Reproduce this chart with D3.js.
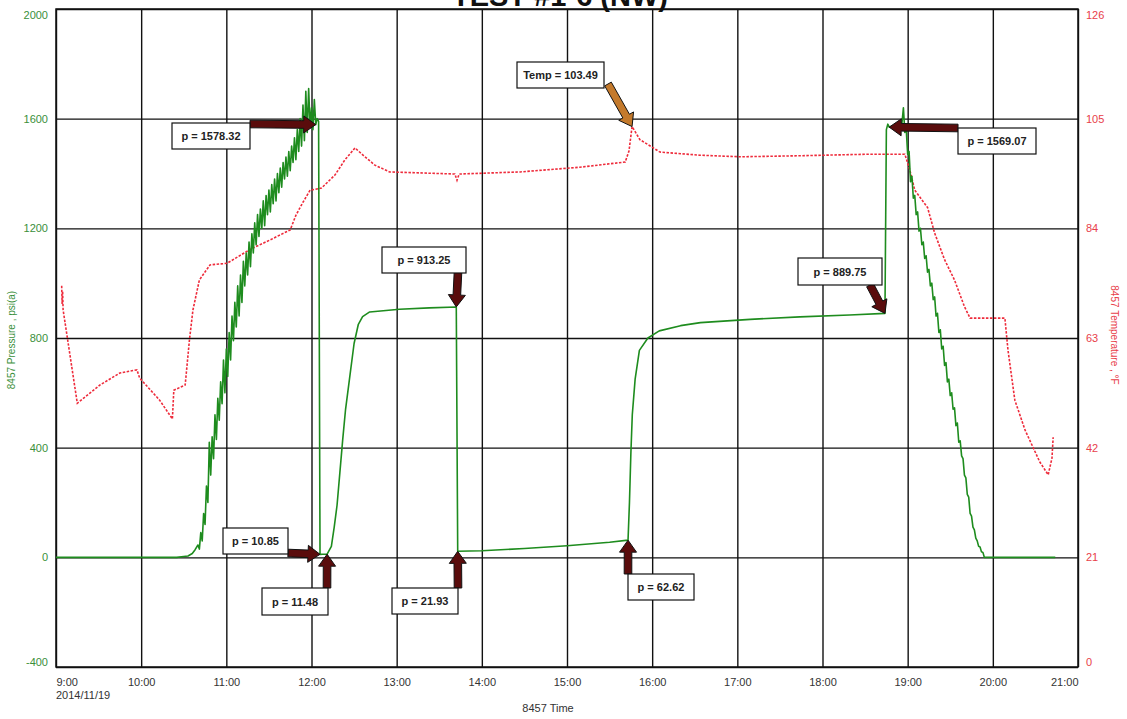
<!DOCTYPE html>
<html><head><meta charset="utf-8">
<script src="https://cdn.jsdelivr.net/npm/d3@7"></script>
<style>body{margin:0;background:#fff;} svg{display:block;font-family:"Liberation Sans",Arial,sans-serif;}</style>
</head><body><svg id="c" width="1127" height="719"></svg>
<script>
// ---------- DATA ----------
const chartTitle = "TEST #1-6 (NW)";
const pressureTicks = [-400, 0, 400, 800, 1200, 1600, 2000];
const temperatureTicks = [0, 21, 42, 63, 84, 105, 126];
const timeDomain = ["09:00", "21:00"];
const dateLabel = "2014/11/19";

// pressure, psi(a): [time, value]
const pressure = [
["09:00",0],["10:25",0],["10:30",3],["10:33",5],["10:36",14],["10:38",28],["10:40",45],["10:41",30],["10:42",90],["10:43",60],
["10:44",160],["10:45",120],["10:46",260],["10:47",200],["10:48",420],["10:49",300],["10:50",440],["10:51",360],["10:52",520],["10:53",430],
["10:54",580],["10:55",500],["10:56",640],["10:57",560],["10:58",720],["10:59",600],["11:00",760],["11:01",660],["11:02",820],["11:03",720],
["11:04",880],["11:05",790],["11:06",930],["11:07",840],["11:08",990],["11:09",880],["11:10",1030],["11:11",930],["11:12",1080],["11:13",990],
["11:14",1110],["11:15",1030],["11:16",1150],["11:17",1060],["11:18",1180],["11:19",1110],["11:20",1220],["11:21",1140],["11:22",1250],["11:23",1170],
["11:24",1270],["11:25",1200],["11:26",1300],["11:27",1210],["11:28",1320],["11:29",1250],["11:30",1340],["11:31",1260],["11:32",1360],["11:33",1290],
["11:34",1380],["11:35",1300],["11:36",1400],["11:37",1330],["11:38",1420],["11:39",1350],["11:40",1440],["11:41",1380],["11:42",1460],["11:43",1390],
["11:44",1480],["11:45",1410],["11:46",1500],["11:47",1440],["11:48",1530],["11:49",1450],["11:50",1560],["11:51",1480],["11:52",1600],["11:53",1500],
["11:54",1650],["11:55",1520],["11:56",1700],["11:57",1550],["11:58",1710],["11:59",1570],["12:00",1640],["12:01",1560],["12:02",1670],["12:03",1578.32],
["12:04",1600],["12:05",1590],["12:06",10.85],["12:08",11],["12:11",11.48],["12:14",40],["12:16",110],["12:18",190],["12:20",310],["12:22",430],
["12:24",540],["12:27",660],["12:30",780],["12:33",850],["12:36",878],["12:41",895],["13:02",905],["13:23",910],["13:42",913.25],["13:43",21.93],
["14:00",24],["14:30",32],["15:00",42],["15:30",55],["15:43",62.62],["15:44",200],["15:45",380],["15:46",520],["15:48",650],["15:51",755],
["15:57",800],["16:05",826],["16:20",845],["16:34",856],["17:09",868],["17:44",877],["18:19",884],["18:44",889.75],["18:45",1560],["18:46",1580],
["18:47",1569.07],["18:50",1575],["18:54",1580],["18:56",1585],["18:57",1640],["18:58",1550],["18:59",1560],["19:00",1470],["19:01",1480],["19:02",1370],
["19:03",1390],["19:04",1310],["19:05",1320],["19:06",1250],["19:07",1260],["19:08",1190],["19:09",1200],["19:10",1140],["19:11",1150],["19:12",1090],
["19:13",1100],["19:14",1040],["19:15",1050],["19:16",990],["19:17",1000],["19:18",940],["19:19",950],["19:20",880],["19:21",890],["19:22",820],
["19:23",830],["19:24",760],["19:25",770],["19:26",700],["19:27",710],["19:28",640],["19:29",650],["19:30",590],["19:31",600],["19:32",540],
["19:33",545],["19:34",480],["19:35",490],["19:36",420],["19:37",425],["19:38",370],["19:39",360],["19:40",300],["19:41",290],["19:42",230],
["19:43",220],["19:44",160],["19:45",150],["19:46",110],["19:47",100],["19:48",70],["19:49",60],["19:50",40],["19:51",38],["19:52",20],
["19:53",18],["19:54",0],["20:44",0]
];

// temperature, °F: [time, value]
const temperature = [
["09:04",73.0],["09:04:20",69.5],["09:04:40",72.0],["09:05",68.4],["09:15",50.5],["09:31",54.0],["09:45",56.3],["09:57",56.9],["09:59",55.3],
["10:13",51.1],["10:22",47.5],["10:23",53.0],["10:31",54.0],["10:34",62.6],["10:36:30",68.4],["10:41",74.1],["10:48:30",77.0],["11:00:30",77.3],
["11:17",80.0],["11:31",81.8],["11:45",83.7],["11:49",86.5],["11:54",89.0],["11:59",91.3],["12:07",91.7],["12:16:30",94.2],["12:23:30",97.1],
["12:30:40",99.4],["12:35:30",98.2],["12:44:40",96.1],["12:55",94.8],["13:41",94.4],["13:42:30",93.2],["13:44",94.4],["14:27",94.8],
["15:09",95.7],["15:41",96.7],["15:43:40",98.8],["15:45:50",103.49],["15:51:20",101.0],["16:05:30",98.6],["16:33:40",98.0],["17:02",97.7],
["17:44",97.9],["18:33:30",98.2],["18:58",98.2],["19:01:30",95.2],["19:05",91.3],["19:14",88.0],["19:19",83.1],["19:26",78.0],["19:33",74.1],
["19:40",69.0],["19:44",66.8],["20:08:30",66.8],["20:10:40",60.7],["20:15:30",51.1],["20:22:40",45.4],["20:33",39.3],["20:39",36.8],
["20:41:40",40.0],["20:42:30",44.0]
];

// annotations (data)
const annTime  = ["12:03","15:45:50","13:42","18:44","18:47","12:06","12:11","13:43","15:43"];
const annValue = [1578.32, 103.49, 913.25, 889.75, 1569.07, 10.85, 11.48, 21.93, 62.62];
const annAxis  = ["p","t","p","p","p","p","p","p","p"];
const annLabel = ["p = 1578.32","Temp = 103.49","p = 913.25","p = 889.75","p = 1569.07","p = 10.85","p = 11.48","p = 21.93","p = 62.62"];

// ---------- LAYOUT / STYLE ----------
const M = {left:56, right:1078, top:9, bottom:667};
const annBox  = [[172,123,78,26],[517,62,87,26],[382,247,84,26],[798,258,84,27],[958,128,78,26],[223,528,65,26],[262,588,66,27],[392,588,66,26],[628,574,66,26]];
const annTail = [[250,124],[608,84],[458,272],[870,285],[958,128],[288,553],[327,588],[458,588],[628,574]];
const annColor= ["#5a0c0c","#c47a2c","#5a0c0c","#5a0c0c","#5a0c0c","#5a0c0c","#5a0c0c","#5a0c0c","#5a0c0c"];

const green = "#1e8c1e", red = "#ee2b3b", greenText = "#3a8f3a", redText = "#e8404a", tickText = "#333";
const parseT = s => { const p = s.split(":").map(Number); return new Date(2014,10,19,p[0],p[1],p[2]||0); };

const svg = d3.select("#c");
const x = d3.scaleTime().domain(timeDomain.map(parseT)).range([M.left, M.right]);
const yL = d3.scaleLinear().domain([-400,2000]).range([M.bottom, M.top]);
const yR = d3.scaleLinear().domain([0,126]).range([M.bottom, M.top]);
const plain = d => String(d);

// title (cut off at the top as in the source)
svg.append("text").attr("x",560).attr("y",6).attr("text-anchor","middle")
  .attr("font-size",29).attr("font-weight","bold").attr("fill","#111").text(chartTitle);

// grid
const hours = d3.timeHour.range(parseT("09:00"), d3.timeMinute.offset(parseT("21:00"),1));
svg.append("g").attr("transform",`translate(0,${M.bottom})`)
  .call(d3.axisBottom(x).tickValues(hours).tickSize(-(M.bottom-M.top)).tickFormat(""))
  .call(g=>g.select(".domain").remove())
  .call(g=>g.selectAll("line").attr("stroke","#111").attr("stroke-width",1.4));
svg.append("g").attr("transform",`translate(${M.left},0)`)
  .call(d3.axisLeft(yL).tickValues(pressureTicks).tickSize(-(M.right-M.left)).tickFormat(""))
  .call(g=>g.select(".domain").remove())
  .call(g=>g.selectAll("line").attr("stroke","#111").attr("stroke-width",1.4));
svg.append("rect").attr("x",M.left).attr("y",M.top).attr("width",M.right-M.left).attr("height",M.bottom-M.top)
  .attr("fill","none").attr("stroke","#111").attr("stroke-width",1.5);

// axis labels
const ax = svg.append("g").attr("transform",`translate(0,${M.bottom})`)
  .call(d3.axisBottom(x).tickValues(hours).tickSize(0).tickPadding(11).tickFormat(d3.timeFormat("%-H:%M")));
ax.select(".domain").remove();
ax.selectAll("text").attr("font-size",11).attr("fill",tickText).attr("font-family","Liberation Sans, Arial");
ax.selectAll(".tick").filter((d,i)=>i===0).select("text").attr("text-anchor","start");
ax.selectAll(".tick").filter((d,i,n)=>i===n.length-1).select("text").attr("text-anchor","end");
svg.append("text").attr("x",M.left).attr("y",699).attr("font-size",11).attr("fill",tickText).text(dateLabel);

const al = svg.append("g").attr("transform",`translate(${M.left},0)`)
  .call(d3.axisLeft(yL).tickValues(pressureTicks).tickSize(0).tickPadding(8).tickFormat(plain));
al.select(".domain").remove();
al.selectAll("text").attr("font-size",11).attr("fill",greenText).attr("font-family","Liberation Sans, Arial");
al.selectAll(".tick").filter(d=>d===2000).select("text").attr("dy","0.85em");
al.selectAll(".tick").filter(d=>d===-400).select("text").attr("dy","-0.1em");

const ar = svg.append("g").attr("transform",`translate(${M.right},0)`)
  .call(d3.axisRight(yR).tickValues(temperatureTicks).tickSize(0).tickPadding(8).tickFormat(plain));
ar.select(".domain").remove();
ar.selectAll("text").attr("font-size",11).attr("fill",redText).attr("font-family","Liberation Sans, Arial");
ar.selectAll(".tick").filter(d=>d===126).select("text").attr("dy","0.85em");
ar.selectAll(".tick").filter(d=>d===0).select("text").attr("dy","-0.1em");

svg.append("text").attr("transform","translate(15,340) rotate(-90)").attr("text-anchor","middle")
  .attr("font-size",10).attr("fill",greenText).text("8457 Pressure , psi(a)");
svg.append("text").attr("transform","translate(1111,335) rotate(90)").attr("text-anchor","middle")
  .attr("font-size",10).attr("fill",redText).text("8457 Temperature , °F");
svg.append("text").attr("x",548).attr("y",712).attr("text-anchor","middle")
  .attr("font-size",11).attr("fill",tickText).text("8457 Time");

// series
svg.append("clipPath").attr("id","pc").append("rect")
  .attr("x",M.left).attr("y",M.top).attr("width",M.right-M.left).attr("height",M.bottom-M.top);
const plot = svg.append("g").attr("clip-path","url(#pc)");
plot.append("path").datum(temperature)
  .attr("d", d3.line().x(d=>x(parseT(d[0]))).y(d=>yR(d[1])))
  .attr("fill","none").attr("stroke",red).attr("stroke-width",1.6).attr("stroke-dasharray","2.5,1.5");
plot.append("path").datum(pressure)
  .attr("d", d3.line().x(d=>x(parseT(d[0]))).y(d=>yL(d[1])))
  .attr("fill","none").attr("stroke",green).attr("stroke-width",1.6).attr("stroke-linejoin","round");

// annotations
function arrowPts(x0,y0,x1,y1){
  const sw=3.8, hl=12, hw=8.5;
  const dx=x1-x0, dy=y1-y0, L=Math.hypot(dx,dy), ux=dx/L, uy=dy/L, px=-uy, py=ux;
  const bx=x1-ux*hl, by=y1-uy*hl;
  return [[x0+px*sw,y0+py*sw],[bx+px*sw,by+py*sw],[bx+px*hw,by+py*hw],[x1,y1],[bx-px*hw,by-py*hw],[bx-px*sw,by-py*sw],[x0-px*sw,y0-py*sw]];
}
const ann = svg.append("g");
annLabel.forEach((lab,i)=>{
  const tx = x(parseT(annTime[i]));
  const ty = annAxis[i]==="p" ? yL(annValue[i]) : yR(annValue[i]);
  const [sx,sy] = annTail[i];
  ann.append("polygon").attr("points",arrowPts(sx,sy,tx,ty).map(p=>p.join(",")).join(" "))
    .attr("fill",annColor[i]).attr("stroke","#111").attr("stroke-width",1);
});
annLabel.forEach((lab,i)=>{
  const [bx,by,bw,bh] = annBox[i];
  ann.append("rect").attr("x",bx).attr("y",by).attr("width",bw).attr("height",bh)
    .attr("fill","#fff").attr("stroke","#111").attr("stroke-width",1.2);
  ann.append("text").attr("x",bx+bw/2).attr("y",by+bh/2+4).attr("text-anchor","middle")
    .attr("font-size",11).attr("font-weight","bold").attr("fill","#222").text(lab);
});
</script></body></html>
